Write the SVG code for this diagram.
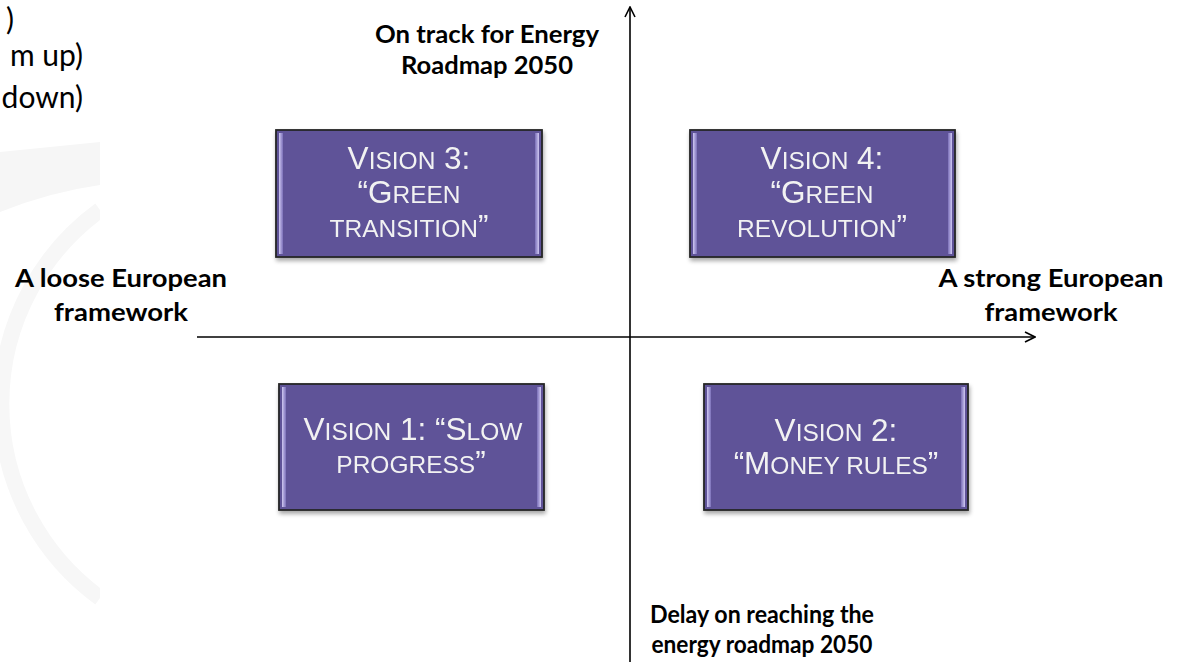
<svg xmlns="http://www.w3.org/2000/svg" width="1182" height="662" viewBox="0 0 1182 662">
  <style>
    .lbl { font-family: Lato, "Open Sans", sans-serif; font-weight: bold; font-size: 25px; fill: #000; text-anchor: middle; }
    .frag { font-family: Lato, "Open Sans", sans-serif; font-size: 30px; fill: #000; text-anchor: end; }
    .box { fill: #5E5398; stroke: #262626; stroke-width: 1.8; }
    .bt { font-family: "Liberation Sans", Arial, sans-serif; font-size: 31.5px; fill: #F2F2F2; text-anchor: middle; }
    .sc { font-size: 24.5px; }
    .axis { stroke: #000; stroke-width: 1.6; fill: none; }
    .wm { fill: #F6F6F6; }
  </style>
  <defs>
    <marker id="arr" viewBox="0 0 12 12" refX="11" refY="6" markerWidth="12" markerHeight="12" markerUnits="userSpaceOnUse" orient="auto">
      <path d="M1,1 L11,6 L1,11" fill="none" stroke="#000" stroke-width="1.6"/>
    </marker>
    <linearGradient id="edgeL" x1="0" y1="0" x2="1" y2="0">
      <stop offset="0" stop-color="#CFC8F2"/>
      <stop offset="1" stop-color="#7A6FB8"/>
    </linearGradient>
    <linearGradient id="edgeR" x1="0" y1="0" x2="1" y2="0">
      <stop offset="0" stop-color="#7A6FB8"/>
      <stop offset="1" stop-color="#CFC8F2"/>
    </linearGradient>
    <filter id="sh" x="-5%" y="-5%" width="112%" height="120%">
      <feGaussianBlur in="SourceAlpha" stdDeviation="2"/>
      <feOffset dx="1" dy="3" result="b"/>
      <feComponentTransfer><feFuncA type="linear" slope="0.35"/></feComponentTransfer>
      <feMerge><feMergeNode/><feMergeNode in="SourceGraphic"/></feMerge>
    </filter>
    <clipPath id="wmclip"><rect x="0" y="0" width="100" height="662"/></clipPath>
  </defs>

  <rect x="0" y="0" width="1182" height="662" fill="#FFFFFF"/>

  <!-- faint watermark on the left -->
  <g id="watermark" clip-path="url(#wmclip)">
    <path class="wm" d="M0,152 L100,142 L100,185 Q50,192 0,212 Z"/>
    <path d="M100,210 A240,240 0 0 0 100,598" fill="none" stroke="#F7F7F7" stroke-width="16"/>
  </g>

  <!-- cut-off text fragments -->
  <g id="fragments">
    <text class="frag" x="14" y="30">)</text>
    <text class="frag" x="83" y="66">m up)</text>
    <text class="frag" x="83" y="108">down)</text>
  </g>

  <!-- axes -->
  <g id="connectors">
    <line class="axis" x1="630" y1="662" x2="630" y2="7" marker-end="url(#arr)"/>
    <line class="axis" x1="197" y1="337" x2="1035" y2="337" marker-end="url(#arr)"/>
  </g>

  <!-- axis labels -->
  <g id="label-top">
    <text class="lbl" x="487" y="43" textLength="224" lengthAdjust="spacingAndGlyphs">On track for Energy</text>
    <text class="lbl" x="487" y="74" textLength="172" lengthAdjust="spacingAndGlyphs">Roadmap 2050</text>
  </g>
  <g id="label-left">
    <text class="lbl" x="121" y="287" textLength="212" lengthAdjust="spacingAndGlyphs">A loose European</text>
    <text class="lbl" x="121" y="321" textLength="134" lengthAdjust="spacingAndGlyphs">framework</text>
  </g>
  <g id="label-right">
    <text class="lbl" x="1051" y="287" textLength="225" lengthAdjust="spacingAndGlyphs">A strong European</text>
    <text class="lbl" x="1051" y="321" textLength="133" lengthAdjust="spacingAndGlyphs">framework</text>
  </g>
  <g id="label-bottom">
    <text class="lbl" x="762" y="623" textLength="224" lengthAdjust="spacingAndGlyphs">Delay on reaching the</text>
    <text class="lbl" x="762" y="653" textLength="221" lengthAdjust="spacingAndGlyphs">energy roadmap 2050</text>
  </g>

  <!-- Vision 3 -->
  <g id="vision3" filter="url(#sh)">
    <rect class="box" x="276" y="130" width="266" height="127"/>
    <rect x="279" y="133" width="4" height="121" fill="url(#edgeL)"/>
    <rect x="535" y="133" width="4" height="121" fill="url(#edgeR)"/>
    <text class="bt" x="409" y="169">V<tspan class="sc">ISION</tspan> 3:</text>
    <text class="bt" x="409" y="203">“G<tspan class="sc">REEN</tspan></text>
    <text class="bt" x="409" y="237"><tspan class="sc">TRANSITION</tspan>”</text>
  </g>

  <!-- Vision 4 -->
  <g id="vision4" filter="url(#sh)">
    <rect class="box" x="690" y="130" width="265" height="127"/>
    <rect x="693" y="133" width="4" height="121" fill="url(#edgeL)"/>
    <rect x="948" y="133" width="4" height="121" fill="url(#edgeR)"/>
    <text class="bt" x="822" y="169">V<tspan class="sc">ISION</tspan> 4:</text>
    <text class="bt" x="822" y="203">“G<tspan class="sc">REEN</tspan></text>
    <text class="bt" x="822" y="237"><tspan class="sc">REVOLUTION</tspan>”</text>
  </g>

  <!-- Vision 1 -->
  <g id="vision1" filter="url(#sh)">
    <rect class="box" x="279" y="384" width="265" height="126"/>
    <rect x="282" y="387" width="4" height="120" fill="url(#edgeL)"/>
    <rect x="537" y="387" width="4" height="120" fill="url(#edgeR)"/>
    <text class="bt" x="413" y="440">V<tspan class="sc">ISION</tspan> 1: “S<tspan class="sc">LOW</tspan></text>
    <text class="bt" x="411" y="473"><tspan class="sc">PROGRESS</tspan>”</text>
  </g>

  <!-- Vision 2 -->
  <g id="vision2" filter="url(#sh)">
    <rect class="box" x="704" y="384" width="264" height="126"/>
    <rect x="707" y="387" width="4" height="120" fill="url(#edgeL)"/>
    <rect x="961" y="387" width="4" height="120" fill="url(#edgeR)"/>
    <text class="bt" x="836" y="441">V<tspan class="sc">ISION</tspan> 2:</text>
    <text class="bt" x="836" y="474">“M<tspan class="sc">ONEY RULES</tspan>”</text>
  </g>
</svg>
